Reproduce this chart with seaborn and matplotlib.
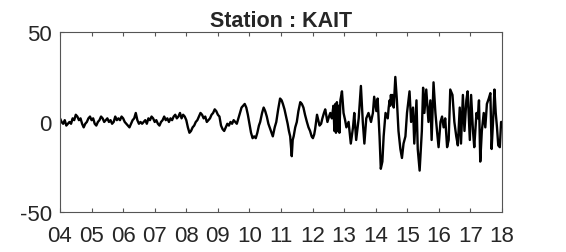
import matplotlib
matplotlib.use("Agg")
import matplotlib.pyplot as plt
import seaborn as sns
import pandas as pd

# decimal year (2004 -> 4 ... 2018 -> 18) and displacement
years = [
    4.00, 4.05, 4.10, 4.15, 4.20, 4.25, 4.30, 4.35, 4.40, 4.45,
    4.50, 4.55, 4.60, 4.65, 4.70, 4.75, 4.80, 4.85, 4.90, 4.95,
    5.00, 5.05, 5.10, 5.15, 5.20, 5.25, 5.30, 5.35, 5.40, 5.45,
    5.50, 5.55, 5.60, 5.65, 5.70, 5.75, 5.80, 5.85, 5.90, 5.95,
    6.00, 6.05, 6.10, 6.15, 6.20, 6.25, 6.30, 6.35, 6.40, 6.45,
    6.50, 6.55, 6.60, 6.65, 6.70, 6.75, 6.80, 6.85, 6.90, 6.95,
    7.00, 7.05, 7.10, 7.15, 7.20, 7.25, 7.30, 7.35, 7.40, 7.45,
    7.50, 7.55, 7.60, 7.65, 7.70, 7.75, 7.80, 7.85, 7.90, 7.95,
    8.00, 8.05, 8.10, 8.15, 8.20, 8.25, 8.30, 8.35, 8.40, 8.45,
    8.50, 8.55, 8.60, 8.65, 8.70, 8.75, 8.80, 8.85, 8.90, 8.95,
    9.00, 9.05, 9.10, 9.15, 9.20, 9.25, 9.30, 9.35, 9.40, 9.45,
    9.50, 9.55, 9.60, 9.65, 9.70, 9.75, 9.80, 9.85, 9.90, 9.95,
    10.00, 10.05, 10.10, 10.15, 10.20, 10.25, 10.30,
    10.34, 10.40, 10.45, 10.50, 10.55, 10.60, 10.66, 10.70, 10.74, 10.80,
    10.85, 10.91, 10.97, 11.02, 11.06, 11.11, 11.16, 11.21, 11.25, 11.29,
    11.34, 11.37, 11.40, 11.45, 11.50, 11.55, 11.61, 11.66, 11.71, 11.76,
    11.82, 11.87, 11.92, 11.97, 12.01, 12.05, 12.08, 12.11, 12.14, 12.18,
    12.22, 12.27, 12.31, 12.36, 12.40, 12.44, 12.47, 12.52, 12.56, 12.61,
    12.66, 12.69, 12.72, 12.74, 12.77, 12.80, 12.82, 12.85, 12.88, 12.93,
    12.98, 13.03, 13.07, 13.14, 13.21, 13.28, 13.32, 13.38, 13.46, 13.53,
    13.59, 13.64, 13.70, 13.77, 13.85, 13.91, 13.95, 14.02, 14.06, 14.12,
    14.16, 14.21, 14.25, 14.31, 14.38, 14.41, 14.44, 14.46, 14.48, 14.50,
    14.52, 14.57, 14.62, 14.67, 14.72, 14.78, 14.83, 14.88, 14.94, 14.99,
    15.07, 15.12, 15.18, 15.22, 15.29, 15.33, 15.39, 15.46, 15.50, 15.54,
    15.60, 15.67, 15.73, 15.77, 15.83, 15.89, 15.94, 15.99, 16.05, 16.10,
    16.15, 16.20, 16.26, 16.31, 16.36, 16.43, 16.49, 16.55, 16.60, 16.66,
    16.70, 16.76, 16.81, 16.87, 16.91, 16.98, 17.02, 17.08, 17.12, 17.19,
    17.23, 17.27, 17.31, 17.36, 17.42, 17.47, 17.52, 17.58, 17.63, 17.67,
    17.72, 17.76, 17.80, 17.84, 17.88, 17.93, 17.97, 18.00,
]
values = [
    2, 0, -1, 1, -2, -1, 0, -1, 2, 1,
    4, 3, 1, 2, -1, -3, -1, 0, 2, 3,
    1, 2, -1, -2, 0, 1, 3, 2, 0, 1,
    2, 0, 1, -1, 0, 3, 1, 2, 1, 3,
    2, 0, -1, -2, -3, -1, 1, 2, 5, 1,
    -1, 0, -1, 0, 1, -1, 2, 1, 3, 2,
    0, 1, -1, -2, 0, 1, 3, 1, 2, 0,
    2, 1, 3, 4, 2, 3, 5, 2, 4, 3,
    1, -3, -6, -5, -3, -2, 0, 1, 3, 5,
    4, 2, 3, 0, 1, 2, 4, 5, 7, 6,
    4, 3, -2, -4, -5, -3, -1, -2, 0, -1,
    1, 0, -1, 2, 5, 8, 9, 10, 8, 4,
    -1, -6, -9, -8, -9, -6, -2,
    0, 5, 8, 6, 3, -1, -4, -6, -8, -3,
    0, 7, 13, 12, 10, 7, 3, -1, -5, -8,
    -19, -10, -8, -3, 0, 6, 11, 10, 8, 4,
    0, -3, -5, -8, -9, -7, -4, 0, 4, 1,
    -2, -1, 2, 5, 7, 3, 0, 3, 5, 2,
    9, -5, 10, -6, 11, -5, 9, -6, 12, 17,
    5, 1, -3, 0, -12, -3, 5, -10, 2, 20,
    0, -12, 2, 5, 0, 5, 14, 6, 13, -8,
    -26, -22, -8, 5, 2, 8, 12, 9, 15, 10,
    15, 8, 25, 12, -5, -15, -20, -12, -8, 5,
    17, 0, 8, -12, 12, -15, -27, -5, 19, 5,
    18, 0, 12, -10, 22, 5, -5, -14, 0, 3,
    -3, 2, -14, -10, 18, 15, 0, -8, -13, 8,
    -12, 15, -5, 12, 17, -10, 15, -5, -14, 5,
    2, 12, -22, -5, 5, -3, 10, 13, 16, -15,
    2, 18, 5, -3, -13, -14, 0, 0,
]
xticks = list(range(4, 19))
xticklabels = [f"{t:02d}" for t in xticks]
yticks = [-50, 0, 50]

df = pd.DataFrame({"year": years, "disp": values})

sns.set_style("white")
plt.rcParams["font.family"] = ["Liberation Sans", "DejaVu Sans"]
plt.rcParams["axes.unicode_minus"] = False

fig = plt.figure(figsize=(5.66, 2.53), dpi=100)
ax = fig.add_axes([0.106, 0.158, 0.781, 0.712])
sns.lineplot(data=df, x="year", y="disp", color="black", lw=1.7, ax=ax)

ax.set_xlim(4, 18)
ax.set_ylim(-50, 50)
ax.set_xticks(xticks)
ax.set_xticklabels(xticklabels)
ax.set_yticks(yticks)
ax.set_xlabel("")
ax.set_ylabel("")
ax.set_title("Station : KAIT", fontsize=15.5, fontweight="bold", pad=4)
ax.tick_params(direction="in", length=3, width=0.8, color="#555555",
               labelsize=16, top=True, bottom=True, left=True, right=False)
ax.tick_params(axis="x", pad=9)
ax.tick_params(axis="y", pad=6)
for s in ax.spines.values():
    s.set_color("#555555")
    s.set_linewidth(0.8)

fig.savefig("out.png", dpi=100, facecolor="white")
